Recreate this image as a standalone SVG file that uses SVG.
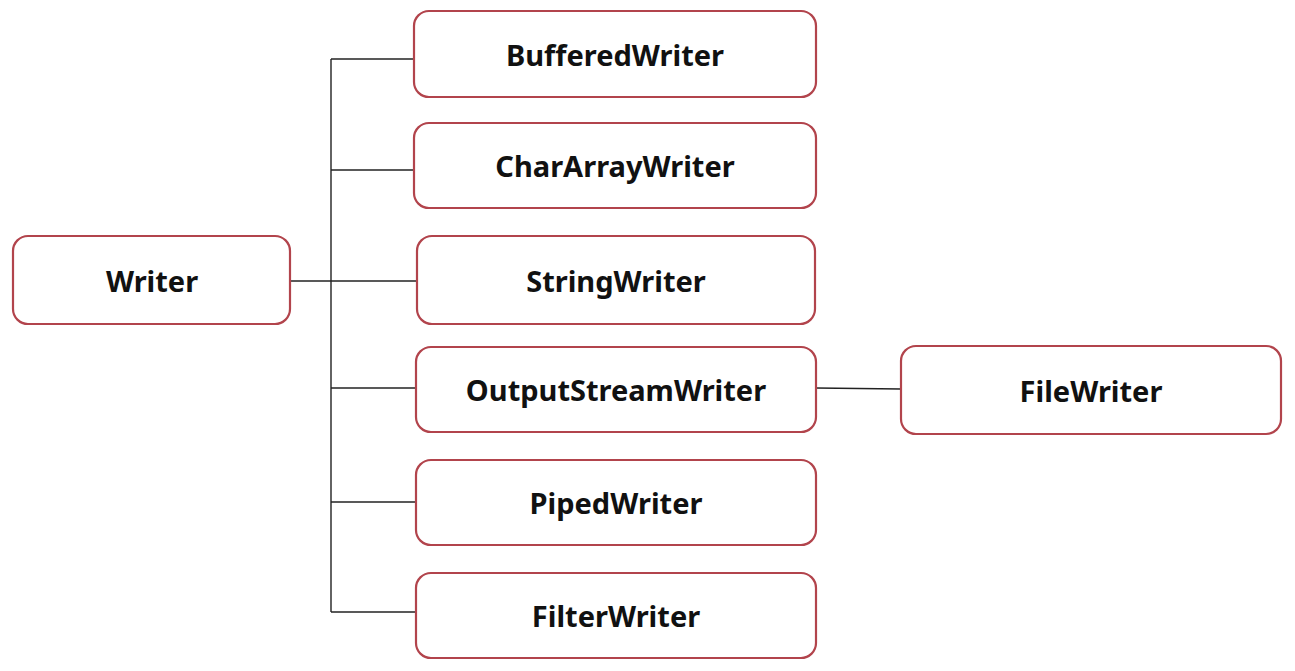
<svg xmlns="http://www.w3.org/2000/svg" width="1295" height="671" viewBox="0 0 1295 671">
<style>
.box{fill:#fff;stroke:#b2444c;stroke-width:2.2}
.lbl{font-family:"Noto Sans","Open Sans","DejaVu Sans",sans-serif;font-weight:bold;font-size:29px;fill:#111;text-anchor:middle;dominant-baseline:central}
.con{stroke:#222;stroke-width:1.4;fill:none}
</style>
<rect width="1295" height="671" fill="#fff"/>
<g id="connectors">
<line class="con" x1="331" y1="59" x2="331" y2="612"/>
<line class="con" x1="331" y1="59" x2="414" y2="59"/>
<line class="con" x1="331" y1="170" x2="414" y2="170"/>
<line class="con" x1="290" y1="281" x2="417" y2="281"/>
<line class="con" x1="331" y1="388" x2="416" y2="388"/>
<line class="con" x1="331" y1="502" x2="416" y2="502"/>
<line class="con" x1="331" y1="612" x2="416" y2="612"/>
<line class="con" x1="816" y1="388" x2="901" y2="389"/>
</g>
<g id="writer"><rect class="box" x="13" y="236" width="277" height="88" rx="15"/><text class="lbl" x="152" y="280">Writer</text></g>
<g id="bufferedwriter"><rect class="box" x="414" y="11" width="402" height="86" rx="15"/><text class="lbl" x="615" y="54">BufferedWriter</text></g>
<g id="chararraywriter"><rect class="box" x="414" y="123" width="402" height="85" rx="15"/><text class="lbl" x="615" y="165">CharArrayWriter</text></g>
<g id="stringwriter"><rect class="box" x="417" y="236" width="398" height="88" rx="15"/><text class="lbl" x="616" y="280">StringWriter</text></g>
<g id="outputstreamwriter"><rect class="box" x="416" y="347" width="400" height="85" rx="15"/><text class="lbl" x="616" y="389">OutputStreamWriter</text></g>
<g id="filewriter"><rect class="box" x="901" y="346" width="380" height="88" rx="15"/><text class="lbl" x="1091" y="390">FileWriter</text></g>
<g id="pipedwriter"><rect class="box" x="416" y="460" width="400" height="85" rx="15"/><text class="lbl" x="616" y="502">PipedWriter</text></g>
<g id="filterwriter"><rect class="box" x="416" y="573" width="400" height="85" rx="15"/><text class="lbl" x="616" y="615">FilterWriter</text></g>
</svg>
